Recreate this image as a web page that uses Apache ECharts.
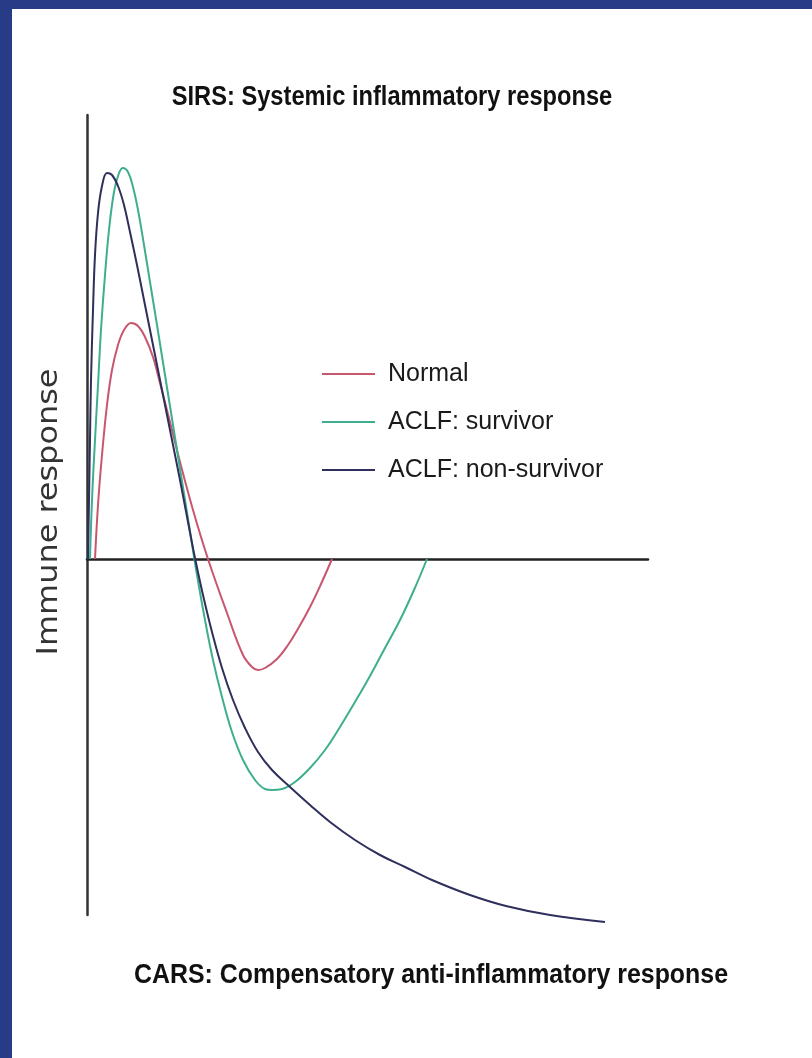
<!DOCTYPE html>
<html>
<head>
<meta charset="utf-8">
<script src="https://cdn.jsdelivr.net/npm/echarts@6/dist/echarts.min.js"></script>
<style>
html,body{margin:0;padding:0;background:#fff;}
#chart{width:812px;height:1058px;}
</style>
</head>
<body>
<div id="chart"></div>
<script>
// Series names
const seriesNames = ['Normal', 'ACLF: survivor', 'ACLF: non-survivor'];
// [time, immune response] points (arbitrary units, response 0 = baseline)
const normalData = [[8,0],[11,54],[15,104],[20,154],[25,189],[31,214],[37,229],[44,236],[51,233],[58,222],[66,202],[73,176],[83,137],[93,97],[106,49],[121,0],[140,-54],[156,-96],[165,-108],[171,-111],[178,-109],[190,-100],[201,-86],[212,-68],[223,-48],[234,-25],[245,0]];
const survivorData = [[3,0],[5,59],[8,119],[11,174],[14,229],[18,284],[22,329],[27,367],[32,386],[36,391],[41,387],[46,372],[51,349],[57,314],[63,277],[70,234],[78,184],[86,134],[94,84],[102,34],[110,-16],[118,-61],[126,-101],[135,-138],[145,-173],[156,-201],[168,-221],[178,-230],[185,-231],[195,-230],[208,-223],[223,-209],[238,-191],[253,-168],[268,-143],[283,-117],[298,-89],[313,-61],[327,-31],[340,0]];
const nonSurvivorData = [[1,0],[2,59],[3,119],[4,179],[6,249],[8,304],[11,346],[15,373],[20,386],[25,384],[31,373],[37,354],[43,327],[50,294],[58,254],[66,214],[75,169],[84,124],[93,79],[101,37],[108,1],[116,-36],[125,-73],[135,-109],[146,-141],[158,-169],[171,-193],[185,-211],[203,-228],[223,-246],[243,-263],[268,-281],[293,-296],[318,-308],[345,-321],[383,-336],[419,-347],[463,-356],[518,-363]];
const colors = ['#c9566f', '#3fae8f', '#2e2f5c'];
const topTitle = 'SIRS: Systemic inflammatory response';
const bottomTitle = 'CARS: Compensatory anti-inflammatory response';
const yName = 'Immune response';

const sans = '"Liberation Sans", Arial, sans-serif';
const chart = echarts.init(document.getElementById('chart'));
const mk = (name, data, color) => ({
  name, type: 'line', data, smooth: 0.4, showSymbol: false, clip: false,
  lineStyle: {color, width: 2}, itemStyle: {color}
});
chart.setOption({
  animation: false,
  backgroundColor: '#ffffff',
  grid: {left: 87, right: 164, top: 115, bottom: 143},
  xAxis: {
    type: 'value', min: 0, max: 561,
    axisLine: {show: true, onZero: true, lineStyle: {color: '#222', width: 2.5}},
    axisTick: {show: false}, axisLabel: {show: false}, splitLine: {show: false}
  },
  yAxis: {
    type: 'value', min: -356, max: 444,
    axisLine: {show: true, lineStyle: {color: '#333', width: 2.5}},
    axisTick: {show: false}, axisLabel: {show: false}, splitLine: {show: false}
  },
  legend: {
    orient: 'vertical', left: 317, top: 354,
    icon: 'rect', itemWidth: 53, itemHeight: 2, itemGap: 18,
    data: seriesNames,
    textStyle: {fontFamily: sans, fontSize: 25, color: '#1a1a1a', lineHeight: 30, padding: [0,0,0,8]}
  },
  graphic: [
    {type: 'rect', shape: {x: 0, y: 0, width: 812, height: 9}, style: {fill: '#273b86'}, silent: true},
    {type: 'rect', shape: {x: 0, y: 0, width: 12, height: 1058}, style: {fill: '#273b86'}, silent: true},
    {type: 'text', x: 392, y: 97, scaleX: 0.845, style: {text: topTitle, font: 'bold 28px ' + sans, fill: '#111', align: 'center', verticalAlign: 'middle'}},
    {type: 'text', x: 431, y: 975, scaleX: 0.89, style: {text: bottomTitle, font: 'bold 28px ' + sans, fill: '#111', align: 'center', verticalAlign: 'middle'}},
    {type: 'text', x: 50, y: 512, rotation: Math.PI / 2, scaleX: 1.14, style: {text: yName, font: '28px "DejaVu Sans", sans-serif', fill: '#333', align: 'center', verticalAlign: 'middle'}}
  ],
  series: [
    mk(seriesNames[0], normalData, colors[0]),
    mk(seriesNames[1], survivorData, colors[1]),
    mk(seriesNames[2], nonSurvivorData, colors[2])
  ]
});
</script>
</body>
</html>
